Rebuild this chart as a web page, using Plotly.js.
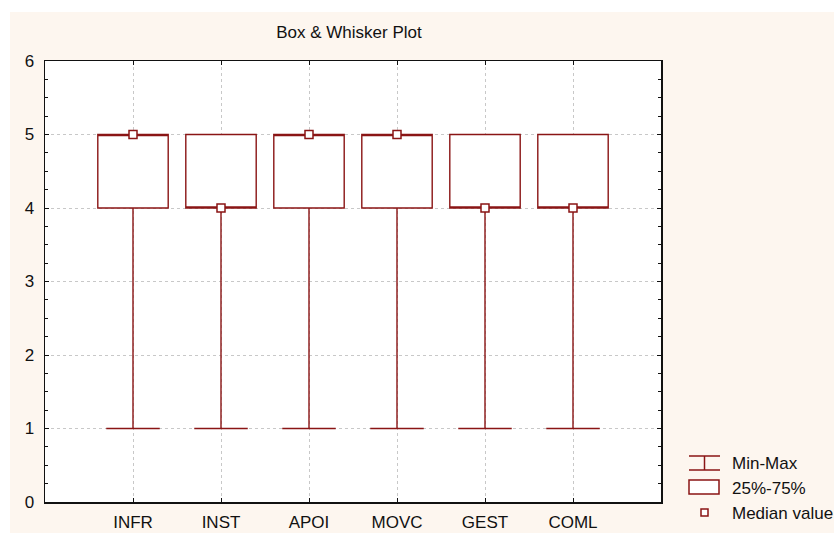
<!DOCTYPE html>
<html>
<head>
<meta charset="utf-8">
<script src="https://cdn.plot.ly/plotly-3.0.1.min.js"></script>
<style>
  html, body { margin: 0; padding: 0; background: #ffffff; }
  #chart { position: absolute; left: 10px; top: 12px; width: 824px; height: 521px; }
</style>
</head>
<body>
<div id="chart"></div>
<script>
// Survey dimensions and their summary statistics
const categories = ['INFR', 'INST', 'APOI', 'MOVC', 'GEST', 'COML'];
const minValues = [1, 1, 1, 1, 1, 1];
const maxValues = [5, 5, 5, 5, 5, 5];
const q1Values = [4, 4, 4, 4, 4, 4];
const q3Values = [5, 5, 5, 5, 5, 5];
const medianValues = [5, 4, 5, 5, 4, 4];
const yTickValues = [0, 1, 2, 3, 4, 5, 6];

const RED = '#8a1515';
const FONT = 'Liberation Sans, Arial, sans-serif';

// Plot-area geometry (page pixels) used to place the hand-drawn legend
const PLOT_L = 45, PLOT_R = 661, PLOT_T = 61, PLOT_B = 502;
const px = p => (p - PLOT_L) / (PLOT_R - PLOT_L);
const py = p => (PLOT_B - p) / (PLOT_B - PLOT_T);

const boxTrace = {
  type: 'box',
  x: categories,
  q1: q1Values,
  median: medianValues,
  q3: q3Values,
  lowerfence: minValues,
  upperfence: maxValues,
  width: 0.8,
  fillcolor: '#ffffff',
  line: { color: RED, width: 1.4 },
  whiskerwidth: 0.76,
  boxpoints: false,
  hoverinfo: 'skip',
  showlegend: false
};

const medianTrace = {
  type: 'scatter',
  mode: 'markers',
  x: categories,
  y: medianValues,
  marker: { symbol: 'square', size: 8, color: '#ffffff', line: { color: RED, width: 1.5 } },
  cliponaxis: false,
  hoverinfo: 'skip',
  showlegend: false
};

// Legend glyphs
const shapes = [
  { type: 'line', xref: 'paper', yref: 'paper', x0: px(689), x1: px(720), y0: py(456), y1: py(456), line: { color: RED, width: 1.5 } },
  { type: 'line', xref: 'paper', yref: 'paper', x0: px(689), x1: px(720), y0: py(470), y1: py(470), line: { color: RED, width: 1.5 } },
  { type: 'line', xref: 'paper', yref: 'paper', x0: px(704.5), x1: px(704.5), y0: py(456), y1: py(470), line: { color: RED, width: 1.5 } },
  { type: 'rect', xref: 'paper', yref: 'paper', x0: px(689), x1: px(719), y0: py(494), y1: py(480), line: { color: RED, width: 1.5 }, fillcolor: '#ffffff' },
  { type: 'rect', xref: 'paper', yref: 'paper', x0: px(701), x1: px(708), y0: py(516), y1: py(509), line: { color: RED, width: 1.5 }, fillcolor: '#ffffff' }
];

const legendLabels = ['Min-Max', '25%-75%', 'Median value'];
const legendRows = [463, 488, 513];
const annotations = legendLabels.map((t, i) => ({
  text: t, xref: 'paper', yref: 'paper', x: px(730), y: py(legendRows[i]),
  xanchor: 'left', yanchor: 'middle', showarrow: false,
  font: { family: FONT, size: 17, color: '#111111' }
}));

const layout = {
  width: 824,
  height: 521,
  margin: { l: 35, r: 173, t: 49, b: 31, pad: 0 },
  paper_bgcolor: '#fdf6ef',
  plot_bgcolor: '#ffffff',
  font: { family: FONT, size: 17, color: '#111111' },
  title: {
    text: 'Box & Whisker Plot',
    font: { family: FONT, size: 17, color: '#111111' },
    xref: 'paper', x: px(349), xanchor: 'center',
    yref: 'container', y: 1 - (32 - 12) / 521, yanchor: 'middle'
  },
  showlegend: false,
  xaxis: {
    type: 'category',
    range: [-1, 6],
    showline: true, linecolor: '#111111', linewidth: 1.5,
    mirror: 'allticks',
    ticks: 'inside', ticklen: 4, tickcolor: '#111111',
    showgrid: true, gridcolor: '#c8c8c8', griddash: 'dot', gridwidth: 1,
    zeroline: false,
    ticklabelstandoff: 4,
    fixedrange: true
  },
  yaxis: {
    range: [0, 6],
    tickvals: yTickValues,
    showline: true, linecolor: '#111111', linewidth: 1.5,
    mirror: 'allticks',
    ticks: 'inside', ticklen: 4, tickcolor: '#111111',
    minor: { dtick: 0.25, ticks: 'inside', ticklen: 3, tickcolor: '#111111', showgrid: false },
    showgrid: true, gridcolor: '#c8c8c8', griddash: 'dot', gridwidth: 1,
    zeroline: false,
    ticklabelstandoff: 6,
    fixedrange: true
  },
  shapes: shapes,
  annotations: annotations
};

Plotly.newPlot('chart', [boxTrace, medianTrace], layout, { displayModeBar: false, staticPlot: true });
</script>
</body>
</html>
